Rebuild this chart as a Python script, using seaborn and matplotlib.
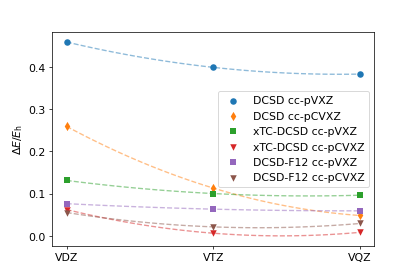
import numpy as np
import pandas as pd
import seaborn as sns
import matplotlib.pyplot as plt

basis = ["VDZ", "VTZ", "VQZ"]
x_pos = [0, 1, 2]

labels = [
    "DCSD cc-pVXZ",
    "DCSD cc-pCVXZ",
    "xTC-DCSD cc-pVXZ",
    "xTC-DCSD cc-pCVXZ",
    "DCSD-F12 cc-pVXZ",
    "DCSD-F12 cc-pCVXZ",
]
dcsd_pvxz = [0.459, 0.399, 0.383]
dcsd_pcvxz = [0.259, 0.113, 0.048]
xtc_pvxz = [0.131, 0.100, 0.096]
xtc_pcvxz = [0.062, 0.006, 0.008]
f12_pvxz = [0.076, 0.063, 0.059]
f12_pcvxz = [0.055, 0.021, 0.029]

series = [dcsd_pvxz, dcsd_pcvxz, xtc_pvxz, xtc_pcvxz, f12_pvxz, f12_pcvxz]
markers = ["o", "d", "s", "v", "s", "v"]
colors = sns.color_palette("tab10", 6)

plt.rcParams["font.size"] = 12

fig, ax = plt.subplots(figsize=(6.4, 4.26), dpi=65)

xs = np.linspace(0, 2, 100)
for vals, lab, mk, col in zip(series, labels, markers, colors):
    df = pd.DataFrame({"x": x_pos, "y": vals})
    # quadratic through the three points, drawn as a dashed guide
    coef = np.polyfit(x_pos, vals, 2)
    fit = pd.DataFrame({"x": xs, "y": np.polyval(coef, xs)})
    sns.lineplot(data=fit, x="x", y="y", ax=ax, color=col, linestyle="--",
                 alpha=0.5, linewidth=1.5, legend=False)
    sns.scatterplot(data=df, x="x", y="y", ax=ax, color=col, marker=mk,
                    s=52, linewidth=0, label=lab)

ax.set_xticks(x_pos)
ax.set_xticklabels(basis)
ax.set_xlabel("")
ax.set_ylabel(r"$\Delta E / E_\mathrm{h}$")
ax.set_yticks([0.0, 0.1, 0.2, 0.3, 0.4])
ax.legend(loc="center right")

plt.savefig("out.png")
